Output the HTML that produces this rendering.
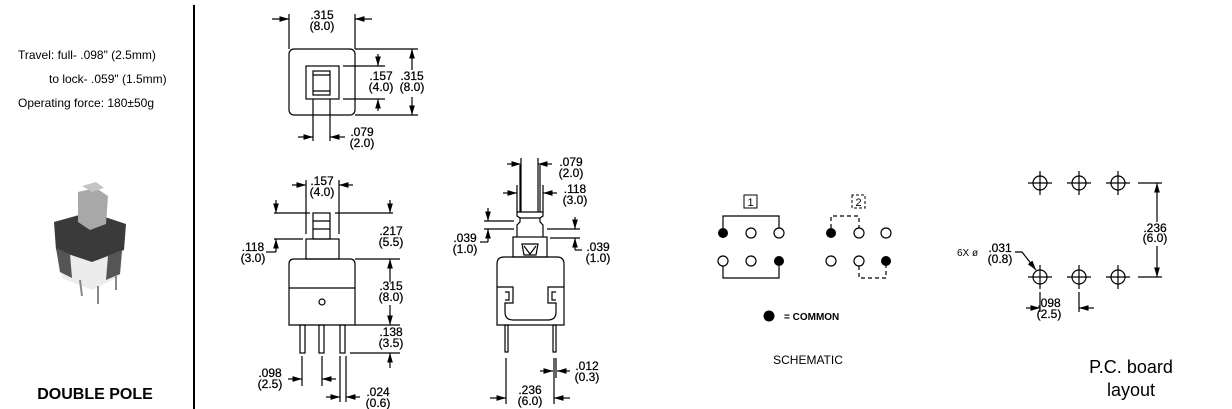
<!DOCTYPE html>
<html><head><meta charset="utf-8"><style>
html,body{margin:0;padding:0;background:#fff;}
svg{display:block;}
text{font-family:"Liberation Sans",sans-serif;fill:#000;}
.d{font-size:12px;text-anchor:middle;stroke:#000;stroke-width:0.25px;}
</style></head><body>
<svg width="1232" height="409" viewBox="0 0 1232 409" xmlns="http://www.w3.org/2000/svg">
<defs>
<marker id="a" viewBox="0 0 10 6" refX="10" refY="3" markerWidth="8" markerHeight="5" orient="auto"><path d="M0,0L10,3L0,6z" fill="#000"/></marker>
</defs>
<text x="18" y="59" font-size="12">Travel: full- .098" (2.5mm)</text>
<text x="49" y="83" font-size="12">to lock- .059" (1.5mm)</text>
<text x="18" y="107" font-size="12">Operating force: 180±50g</text>
<text x="95" y="399" font-size="16" font-weight="bold" text-anchor="middle">DOUBLE POLE</text>
<line x1="194" y1="5" x2="194" y2="409" stroke="#000" stroke-width="2"/>
<g>
<path d="M58,248 L62,278 L92,290 L120,276 L124,244 Z" fill="#ececec"/>
<path d="M54,222 L90,212 L126,224 L124,250 L92,262 L56,250 Z" fill="#3a3a3a"/>
<path d="M56,248 L70,254 L72,278 L60,272 Z" fill="#555"/>
<path d="M108,256 L122,250 L120,274 L106,280 Z" fill="#555"/>
<path d="M78,192 L96,188 L108,196 L106,224 L90,230 L78,222 Z" fill="#a8a8a8"/>
<path d="M82,186 L96,182 L104,188 L92,192 Z" fill="#c4c4c4"/>
<line x1="80" y1="280" x2="82" y2="296" stroke="#888" stroke-width="2"/>
<line x1="98" y1="286" x2="98" y2="304" stroke="#888" stroke-width="2"/>
<line x1="116" y1="276" x2="116" y2="290" stroke="#888" stroke-width="2"/>
</g>

<g stroke="#000" stroke-width="1.2" fill="none">
<rect x="289" y="49" width="66" height="66" rx="5"/>
<rect x="306" y="66" width="33" height="33"/>
<rect x="313" y="71" width="17" height="24"/>
<line x1="313" y1="75" x2="330" y2="75"/><line x1="313" y1="91" x2="330" y2="91"/>
<line x1="289" y1="14" x2="289" y2="49"/><line x1="355" y1="14" x2="355" y2="49"/>
<line x1="272" y1="19" x2="289" y2="19" marker-end="url(#a)"/><line x1="372" y1="19" x2="355" y2="19" marker-end="url(#a)"/>
<line x1="355" y1="49" x2="418" y2="49"/><line x1="355" y1="115" x2="418" y2="115"/>
<line x1="412" y1="70" x2="412" y2="49" marker-end="url(#a)"/><line x1="412" y1="97" x2="412" y2="115" marker-end="url(#a)"/>
<line x1="343" y1="66" x2="385" y2="66"/><line x1="343" y1="99" x2="385" y2="99"/>
<line x1="378" y1="54" x2="378" y2="66" marker-end="url(#a)"/><line x1="378" y1="111" x2="378" y2="99" marker-end="url(#a)"/>
<line x1="313" y1="99" x2="313" y2="141"/><line x1="330" y1="99" x2="330" y2="141"/>
<line x1="298" y1="137" x2="313" y2="137" marker-end="url(#a)"/><line x1="345" y1="137" x2="330" y2="137" marker-end="url(#a)"/>

<rect x="313" y="213" width="17" height="26"/>
<line x1="313" y1="221" x2="330" y2="221"/><line x1="313" y1="229" x2="330" y2="229"/>
<rect x="306" y="239" width="33" height="20"/>
<path d="M289,325 L289,264 Q289,259 294,259 L350,259 Q355,259 355,264 L355,325 Z"/>
<line x1="289" y1="288" x2="355" y2="288"/>
<circle cx="322" cy="302" r="3"/>
<rect x="300" y="325" width="5" height="28"/><rect x="319" y="325" width="5" height="28"/><rect x="340" y="325" width="5" height="28"/>
<line x1="306" y1="180" x2="306" y2="234"/><line x1="339" y1="180" x2="339" y2="234"/>
<line x1="292" y1="185" x2="306" y2="185" marker-end="url(#a)"/><line x1="353" y1="185" x2="339" y2="185" marker-end="url(#a)"/>
<line x1="274" y1="213" x2="310" y2="213"/><line x1="335" y1="213" x2="393" y2="213"/>
<line x1="276" y1="200" x2="276" y2="213" marker-end="url(#a)"/><line x1="390" y1="200" x2="390" y2="213" marker-end="url(#a)"/>
<line x1="274" y1="239" x2="303" y2="239"/>
<line x1="276" y1="252" x2="276" y2="239" marker-end="url(#a)"/><path d="M266,252 L276,252"/>
<line x1="355" y1="259" x2="400" y2="259"/><line x1="355" y1="325" x2="400" y2="325"/>
<line x1="390" y1="282" x2="390" y2="259" marker-end="url(#a)"/><line x1="390" y1="305" x2="390" y2="325" marker-end="url(#a)"/>
<line x1="350" y1="353" x2="400" y2="353"/>
<line x1="390" y1="368" x2="390" y2="353" marker-end="url(#a)"/>
<line x1="302" y1="356" x2="302" y2="386"/><line x1="322" y1="356" x2="322" y2="386"/>
<line x1="288" y1="379" x2="302" y2="379" marker-end="url(#a)"/><line x1="336" y1="379" x2="322" y2="379" marker-end="url(#a)"/>
<line x1="340" y1="356" x2="340" y2="402"/><line x1="346" y1="356" x2="346" y2="402"/>
<line x1="326" y1="397" x2="340" y2="397" marker-end="url(#a)"/><line x1="360" y1="397" x2="346" y2="397" marker-end="url(#a)"/>

<path d="M520,212 L520,165 M540,212 L540,165"/>
<path d="M517,237 L517,225 L520,222 L520,218 L517,216 L517,212 L543,212 L543,216 L540,218 L540,222 L543,225 L543,237"/>
<line x1="520" y1="218" x2="540" y2="218"/>
<rect x="513" y="237" width="34" height="20"/>
<path d="M522,244 L538,244 L536,255 L524,255 Z M524,246 L530,254 L536,246"/>
<path d="M497,325 L497,264 Q497,257 504,257 L557,257 Q564,257 564,264 L564,325 Z"/>
<path d="M497,287 L513,287 L513,303 L505,303 L505,312 Q505,320 513,320 L548,320 Q556,320 556,312 L556,303 L548,303 L548,287 L564,287"/>
<path d="M505,292 L509,292 L509,300 L505,300 M556,292 L552,292 L552,300 L556,300"/>
<rect x="505" y="325" width="3" height="27"/><rect x="553" y="325" width="3" height="27"/>
<line x1="521" y1="158" x2="521" y2="212"/><line x1="538" y1="158" x2="538" y2="212"/>
<line x1="507" y1="164" x2="521" y2="164" marker-end="url(#a)"/><line x1="552" y1="164" x2="538" y2="164" marker-end="url(#a)"/>
<line x1="517" y1="185" x2="517" y2="212"/><line x1="543" y1="185" x2="543" y2="212"/>
<line x1="503" y1="193" x2="517" y2="193" marker-end="url(#a)"/><line x1="557" y1="193" x2="543" y2="193" marker-end="url(#a)"/>
<line x1="484" y1="221" x2="514" y2="221"/><line x1="484" y1="229" x2="514" y2="229"/>
<line x1="488" y1="208" x2="488" y2="221" marker-end="url(#a)"/><line x1="488" y1="242" x2="488" y2="229" marker-end="url(#a)"/><path d="M480,242 L488,242"/>
<line x1="547" y1="229" x2="580" y2="229"/><line x1="550" y1="238" x2="580" y2="238"/>
<line x1="575" y1="217" x2="575" y2="229" marker-end="url(#a)"/><line x1="575" y1="250" x2="575" y2="238" marker-end="url(#a)"/><path d="M575,250 L582,250"/>
<line x1="506" y1="358" x2="506" y2="404"/><line x1="554" y1="358" x2="554" y2="404"/><line x1="556" y1="358" x2="556" y2="378"/>
<line x1="490" y1="398" x2="506" y2="398" marker-end="url(#a)"/><line x1="570" y1="398" x2="554" y2="398" marker-end="url(#a)"/>
<line x1="540" y1="371" x2="553" y2="371" marker-end="url(#a)"/><line x1="570" y1="371" x2="557" y2="371" marker-end="url(#a)"/>

<rect x="744" y="195" width="13" height="13" stroke-width="1"/>
<path d="M852,195 L852,208 L865,208 L865,195 Z" stroke-dasharray="3,2" stroke-width="1"/>
<path d="M723,228 L723,216 L779,216 L779,228"/>
<path d="M723,266 L723,278 L779,278 L779,266"/>
<path d="M831,228 L831,216 L859,216 L859,228" stroke-dasharray="4,3"/>
<path d="M859,266 L859,278 L886,278 L886,266" stroke-dasharray="4,3"/>
<circle cx="751" cy="233" r="5"/><circle cx="779" cy="233" r="5"/>
<circle cx="723" cy="261" r="5"/><circle cx="751" cy="261" r="5"/>
<circle cx="859" cy="233" r="5"/><circle cx="886" cy="233" r="5"/>
<circle cx="831" cy="261" r="5"/><circle cx="859" cy="261" r="5"/>

<g id="h">
<circle cx="1040" cy="183" r="7"/><path d="M1028,183H1052M1040,171V195"/>
</g>
<use href="#h" x="39"/><use href="#h" x="78"/>
<use href="#h" y="94"/><use href="#h" x="39" y="94"/><use href="#h" x="78" y="94"/>
<line x1="1138" y1="183" x2="1162" y2="183"/><line x1="1138" y1="277" x2="1162" y2="277"/>
<line x1="1157" y1="222" x2="1157" y2="183" marker-end="url(#a)"/><line x1="1157" y1="246" x2="1157" y2="277" marker-end="url(#a)"/>
<line x1="1040" y1="292" x2="1040" y2="312"/><line x1="1079" y1="292" x2="1079" y2="312"/>
<line x1="1026" y1="308" x2="1040" y2="308" marker-end="url(#a)"/><line x1="1094" y1="308" x2="1079" y2="308" marker-end="url(#a)"/>
<path d="M1015,252 L1022,252 L1036,270" marker-end="url(#a)"/>
</g>
<g fill="#000">
<circle cx="723" cy="233" r="5"/><circle cx="779" cy="261" r="5"/>
<circle cx="831" cy="233" r="5"/><circle cx="886" cy="261" r="5"/>
<circle cx="769" cy="316" r="5.5"/>
</g>
<text x="750.5" y="206" font-size="11" text-anchor="middle">1</text>
<text x="858.5" y="206" font-size="11" text-anchor="middle">2</text>
<text x="784" y="320" font-size="10" font-weight="bold">=  COMMON</text>
<text x="808" y="364" font-size="12" text-anchor="middle">SCHEMATIC</text>

<g>
<text x="322" y="19" class="d">.315</text><text x="322" y="30" class="d">(8.0)</text>
<text x="412" y="80" class="d">.315</text><text x="412" y="91" class="d">(8.0)</text>
<text x="381" y="80" class="d">.157</text><text x="381" y="91" class="d">(4.0)</text>
<text x="362" y="136" class="d">.079</text><text x="362" y="147" class="d">(2.0)</text>
<text x="322" y="185" class="d">.157</text><text x="322" y="196" class="d">(4.0)</text>
<text x="391" y="235" class="d">.217</text><text x="391" y="246" class="d">(5.5)</text>
<text x="253" y="251" class="d">.118</text><text x="253" y="262" class="d">(3.0)</text>
<text x="391" y="290" class="d">.315</text><text x="391" y="301" class="d">(8.0)</text>
<text x="391" y="336" class="d">.138</text><text x="391" y="347" class="d">(3.5)</text>
<text x="270" y="377" class="d">.098</text><text x="270" y="388" class="d">(2.5)</text>
<text x="378" y="396" class="d">.024</text><text x="378" y="407" class="d">(0.6)</text>
<text x="571" y="166" class="d">.079</text><text x="571" y="177" class="d">(2.0)</text>
<text x="575" y="193" class="d">.118</text><text x="575" y="204" class="d">(3.0)</text>
<text x="465" y="242" class="d">.039</text><text x="465" y="253" class="d">(1.0)</text>
<text x="598" y="251" class="d">.039</text><text x="598" y="262" class="d">(1.0)</text>
<text x="587" y="370" class="d">.012</text><text x="587" y="381" class="d">(0.3)</text>
<text x="530" y="394" class="d">.236</text><text x="530" y="405" class="d">(6.0)</text>
<text x="1155" y="232" class="d">.236</text><text x="1155" y="242" class="d">(6.0)</text>
<text x="1049" y="307" class="d">.098</text><text x="1049" y="318" class="d">(2.5)</text>
<text x="1000" y="252" class="d">.031</text><text x="1000" y="263" class="d">(0.8)</text>
</g>
<text x="957" y="256" font-size="10">6X ø</text>
<text x="1131" y="373" font-size="18" text-anchor="middle">P.C. board</text>
<text x="1131" y="396" font-size="18" text-anchor="middle">layout</text>
</svg>
</body></html>
